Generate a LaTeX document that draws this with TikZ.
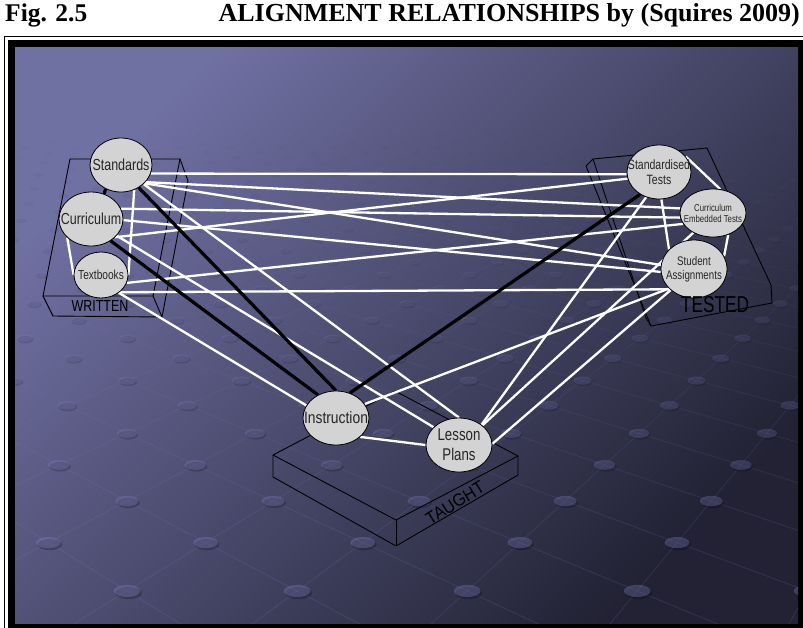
\documentclass[tikz,border=0pt]{standalone}
\usepackage{graphicx}
\usepackage{fontspec}
\setmainfont{Liberation Serif}
\newfontfamily\lsans{Liberation Sans}
\usetikzlibrary{shapes.geometric}
\pgfdeclarelayer{back}
\pgfdeclarelayer{links}
\pgfsetlayers{back,links,main}
\definecolor{bgtop}{RGB}{112,113,163}
\definecolor{bgbot}{RGB}{34,34,52}
\definecolor{dotcol}{RGB}{135,135,205}
\definecolor{nodegray}{RGB}{211,211,211}
\definecolor{textgray}{RGB}{38,38,38}
% condensed text, as set on the slide
\newcommand\sq[2][0.78]{\scalebox{#1}[1]{#2}}
\newcommand\fsz[1]{\fontsize{#1}{#1}\selectfont}
\begin{document}
\begin{tikzpicture}[x=1pt,y=-1pt,
  bubble/.style={ellipse, draw=black, line width=0.8pt, fill=nodegray, inner sep=0pt},
  link/.style={draw=white, line width=2.3pt},
  strong/.style={draw=black, line width=3.2pt},
  boxline/.style={draw=black, line width=0.9pt, line join=round},
  gridline/.style={draw=dotcol, line width=0.9pt},
  lbl/.style={inner sep=0pt, align=center, text=textgray, font=\lsans},
  boxlbl/.style={inner sep=0pt, text=black, font=\lsans},
]
\useasboundingbox (0,0) rectangle (803,627);

% title line
\node[anchor=base west, inner sep=0pt, font=\fsz{25.5}\bfseries] (figno) at (5,21.5) {Fig. 2.5};
\node[anchor=base east, inner sep=0pt, font=\fsz{26}\bfseries] (title) at (800,21.5) {ALIGNMENT RELATIONSHIPS by (Squires 2009)};

\begin{pgfonlayer}{back}
  \fill[white] (0,0) rectangle (803,627);
  % frame
  \draw[line width=1pt] (4.5,36.5) rectangle (812,640);
  \fill[black] (8,40) rectangle (810,635);
  \shade[top color=bgtop, bottom color=bgbot, shading angle=45] (15,47) rectangle (798,623);
  % perspective plane of dots and diagonal lines
  \begin{scope}
    \clip (15,47) rectangle (798,623);
    \foreach \n in {-40,...,3} {
      \pgfmathsetmacro\lyD{1000/(1.828-0.129*\n)}
      \pgfmathsetmacro\lyY{\lyD-46}
      \pgfmathsetmacro\lyS{0.267*\lyD}
      \pgfmathsetmacro\lyDn{1000/(1.828-0.129*(\n+1))}
      \pgfmathsetmacro\lyYn{\lyDn-46}
      \pgfmathsetmacro\lySn{0.267*\lyDn}
      \pgfmathsetmacro\lyOff{0.5*mod(\n+100,2)}
      \pgfmathtruncatemacro\lyKmin{floor(-112/\lyS-\lyOff)-1}
      \pgfmathtruncatemacro\lyKmax{ceil(671/\lyS-\lyOff)+1}
      \pgfmathsetmacro\lyOp{max(0,min(1,(\lyY-130)/400))}
      \pgfmathsetmacro\lyLo{0.15*\lyOp}
      \pgfmathsetmacro\lyFo{0.32*\lyOp}
      \pgfmathsetmacro\lySo{0.24*\lyOp}
      \pgfmathsetmacro\lyRx{0.021*\lyD}
      \pgfmathsetmacro\lyRy{0.0095*\lyD}
      \foreach \k in {\lyKmin,...,\lyKmax} {
        \pgfmathsetmacro\lyM{\k+\lyOff}
        \pgfmathsetmacro\lyX{127+\lyS*\lyM}
        \pgfmathsetmacro\lyXa{127+\lySn*(\lyM+0.5)}
        \pgfmathsetmacro\lyXb{127+\lySn*(\lyM-0.5)}
        \draw[gridline, opacity=\lyLo] (\lyX,\lyY) -- (\lyXa,\lyYn) (\lyX,\lyY) -- (\lyXb,\lyYn);
        \fill[black, opacity=\lySo] (\lyX+0.12*\lyRx,\lyY+0.35*\lyRy) ellipse [x radius=\lyRx pt, y radius=\lyRy pt];
        \fill[dotcol, opacity=\lyFo] (\lyX,\lyY) ellipse [x radius=\lyRx pt, y radius=\lyRy pt];
      }
    }
  \end{scope}

  % WRITTEN slab
  \draw[boxline] (70,159) -- (180,159) -- (153,296) -- (43,296) -- cycle;
  \draw[boxline] (180,159) -- (188,181) -- (162,317) -- (153,296);
  \draw[boxline] (43,296) -- (53,316) -- (162,317);
  % TESTED slab
  \draw[boxline] (593,159) -- (707,148) -- (771,285) -- (772,303) -- (651,326) -- (586,166) -- cycle;
  \draw[boxline] (593,159) -- (646,318) -- (651,326);
  % TAUGHT slab
  \draw[boxline] (273,455) -- (395,391) -- (518,456) -- (396,520) -- cycle;
  \draw[boxline] (273,455) -- (273,477) -- (396,546) -- (518,475) -- (518,456);
  \draw[boxline] (396,520) -- (396,546);
\end{pgfonlayer}

% bubbles
\node[bubble, minimum width=62pt, minimum height=54pt] (std) at (121,165) {};
\node[bubble, minimum width=64pt, minimum height=54pt] (cur) at (91,219) {};
\node[bubble, minimum width=54pt, minimum height=46pt] (tb) at (101,275) {};
\node[bubble, minimum width=64pt, minimum height=54pt] (st) at (659,172) {};
\node[bubble, minimum width=66pt, minimum height=48pt] (cet) at (713,213) {};
\node[bubble, minimum width=66pt, minimum height=58pt] (sa) at (694,269) {};
\node[bubble, minimum width=66pt, minimum height=54pt] (ins) at (336,418) {};
\node[bubble, minimum width=66pt, minimum height=54pt] (lp) at (459,445) {};

% slab captions
\node[boxlbl, font=\lsans\fsz{16}] (written) at (100,305.5) {\sq{WRITTEN}};
\node[boxlbl, font=\lsans\fsz{23}] (tested) at (715,305) {\sq[0.75]{TESTED}};
\node[boxlbl, font=\lsans\fsz{17.5}, rotate=32] (taught) at (455,503) {\sq[0.93]{TAUGHT}};

% bubble texts
\node[lbl, font=\lsans\fsz{16}] (stdL) at (std) {\sq{Standards}};
\node[lbl, font=\lsans\fsz{16}] (curL) at (cur) {\sq{Curriculum}};
\node[lbl, font=\lsans\fsz{13}] (tbL) at (tb) {\sq{Textbooks}};
\node[lbl, font=\lsans\fsz{13.5}, align=center] (stL) at (st) {\sq{Standardised}\\[1pt]\sq{Tests}};
\node[lbl, font=\lsans\fsz{10}, align=center] (cetL) at (cet) {\sq{Curriculum}\\[1pt]\sq{Embedded Tests}};
\node[lbl, font=\lsans\fsz{12.5}, align=center] (saL) at (sa) {\sq{Student}\\[1.5pt]\sq{Assignments}};
\node[lbl, font=\lsans\fsz{16.5}] (insL) at (ins) {\sq[0.84]{Instruction}};
\node[lbl, font=\lsans\fsz{17}, align=center] (lpL) at (lp) {\sq{Lesson}\\[3pt]\sq{Plans}};

\begin{pgfonlayer}{links}
  % white alignment links
  \draw[link] (std.-16) -- (st.184);
  \draw[link] (std.-35) -- (cet.172);
  \draw[link] (std.-38) -- (sa.173);
  \draw[link] (std.-40) -- (lp.90);
  \draw[link] (std.-62) -- (tb.0);
  \draw[link] (cur.-37) -- (st.192);
  \draw[link] (cur.19) -- (cet.188);
  \draw[link] (cur.-2) -- (sa.185);
  \draw[link] (cur.-33) -- (lp.145);
  \draw[link] (cur.218) -- (tb.180);
  \draw[link] (tb.-17) -- (cet.200);
  \draw[link] (tb.-43) -- (sa.220);
  \draw[link] (tb.-45) -- (ins.157);
  \draw[link] (st.30) -- (cet.73);
  \draw[link] (st.-85) -- (sa.142);
  \draw[link] (st.-117) -- (lp.42);
  \draw[link] (cet.-55) -- (sa.23);
  \draw[link] (cet.225) -- (lp.40);
  \draw[link] (sa.218) -- (ins.26);
  \draw[link] (sa.222) -- (lp.2);
  \draw[link] (ins.-38) -- (lp.180);
  % black links
  \draw[strong] (std.-123) -- (cur.62);
  \draw[strong] (std.-52) -- (ins.90);
  \draw[strong] (cur.-48) -- (ins.128);
  \draw[strong] (ins.61) -- (st.230);
\end{pgfonlayer}
\end{tikzpicture}
\end{document}
